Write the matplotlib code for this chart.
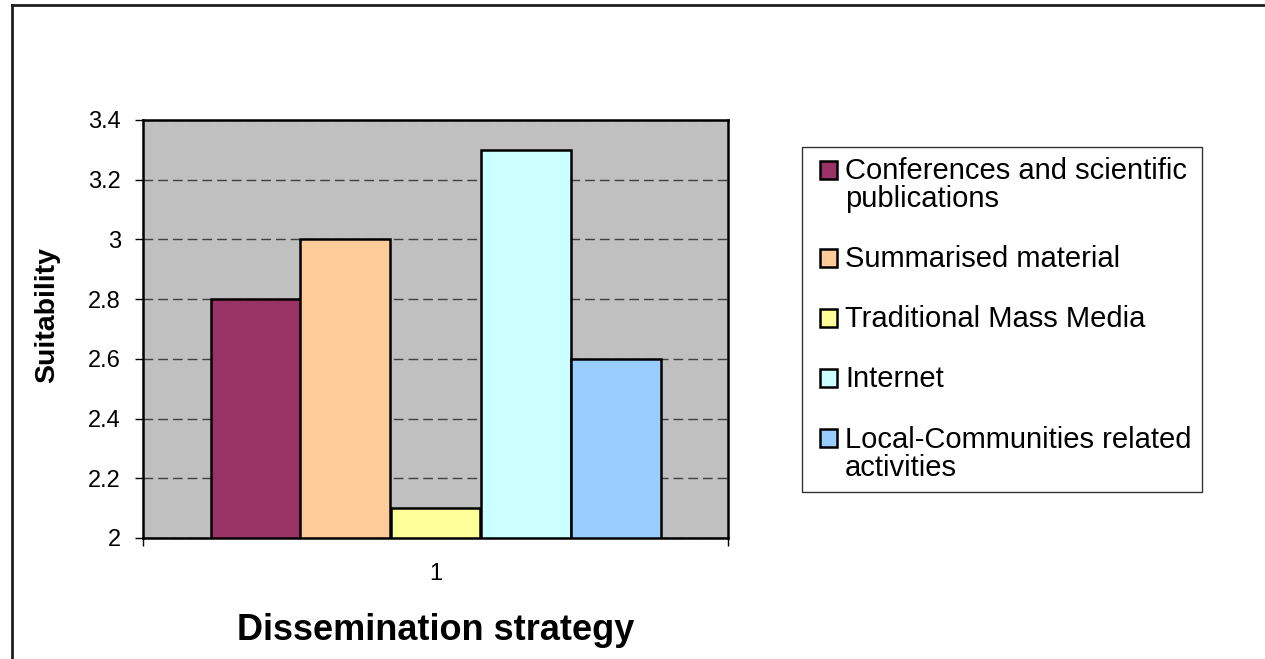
import numpy as np
import matplotlib.pyplot as plt
from matplotlib.lines import Line2D
from matplotlib.patches import Rectangle
from matplotlib.container import BarContainer
from matplotlib.legend_handler import HandlerPatch, update_from_first_child

plt.rcParams['font.family'] = ['Liberation Sans', 'DejaVu Sans']

# Data
strategies = ['Conferences and scientific\npublications',
              'Summarised material',
              'Traditional Mass Media',
              'Internet',
              'Local-Communities related\nactivities']
suitability = [2.8, 3.0, 2.1, 3.3, 2.6]
colors = ['#993366', '#FFCC99', '#FFFF99', '#CCFFFF', '#99CCFF']
y_ticks = [2, 2.2, 2.4, 2.6, 2.8, 3, 3.2, 3.4]
y_tick_labels = ['2', '2.2', '2.4', '2.6', '2.8', '3', '3.2', '3.4']

fig = plt.figure(figsize=(12.65, 6.59), dpi=100)
ax = fig.add_axes([143 / 1265, 1 - 538 / 659, 585 / 1265, 418 / 659])
ax.set_facecolor('#C0C0C0')

# five bars grouped around category 1
width = 90 / 585
n = len(suitability)
for i, (lab, val, col) in enumerate(zip(strategies, suitability, colors)):
    x = 1 + (i - (n - 1) / 2) * width
    ax.bar(x, val - 2, bottom=2, width=width, color=col,
           edgecolor='black', linewidth=1.8, label=lab, zorder=3)

ax.set_xlim(0.5, 1.5)
ax.set_ylim(2, 3.4)
ax.set_yticks(y_ticks)
ax.set_yticklabels(y_tick_labels)
ax.yaxis.grid(True, linestyle=(0, (7, 3.6)), color='#404040', linewidth=1, zorder=1)

ax.set_xticks([1])
ax.set_xticklabels(['1'])
ax.set_xticks([0.5, 1.5], minor=True)
ax.tick_params(axis='x', which='major', length=0, pad=18, labelsize=17)
ax.tick_params(axis='x', which='minor', length=6, width=1, direction='out')
ax.tick_params(axis='y', length=6, width=1, direction='out', pad=10, labelsize=17)

for s in ax.spines.values():
    s.set_linewidth(1.8)
    s.set_color('black')

ax.set_xlabel('Dissemination strategy', fontsize=26, fontweight='bold', labelpad=20)
ax.set_ylabel('Suitability', fontsize=20.5, fontweight='bold')
ax.yaxis.set_label_coords(-0.142, 0.533)


# small square marker sitting on the first text line of each entry
def square(legend, orig_handle, xdescent, ydescent, width, height, fontsize):
    s = 0.6 * fontsize
    return Rectangle((-xdescent + width - s, -ydescent + height - s - 0.13 * fontsize), s, s)


leg = ax.legend(loc='upper left', bbox_to_anchor=(802 / 1265, 1 - 147 / 659),
                bbox_transform=fig.transFigure, borderaxespad=0, fontsize=21,
                frameon=True, fancybox=False, edgecolor='black',
                handlelength=0.85, handleheight=0.95, handletextpad=0.28,
                labelspacing=1.1, borderpad=0.35,
                handler_map={BarContainer: HandlerPatch(
                    patch_func=square, update_func=update_from_first_child)})
leg.get_frame().set_linewidth(1)
for t in leg.get_texts():
    t.set_linespacing(1.0)
for col in leg._legend_handle_box.get_children():
    for row in col.get_children():
        row.align = 'top'
for p in leg.get_patches():
    p.set_linewidth(1.8)

# outer chart border (cropped on right and bottom)
fig.add_artist(Line2D([12 / 1265, 12 / 1265], [0, 1 - 5 / 659],
                      transform=fig.transFigure, color='#202020', linewidth=2))
fig.add_artist(Line2D([12 / 1265, 1], [1 - 5 / 659, 1 - 5 / 659],
                      transform=fig.transFigure, color='#202020', linewidth=2))

fig.savefig('out.png', dpi=100)
